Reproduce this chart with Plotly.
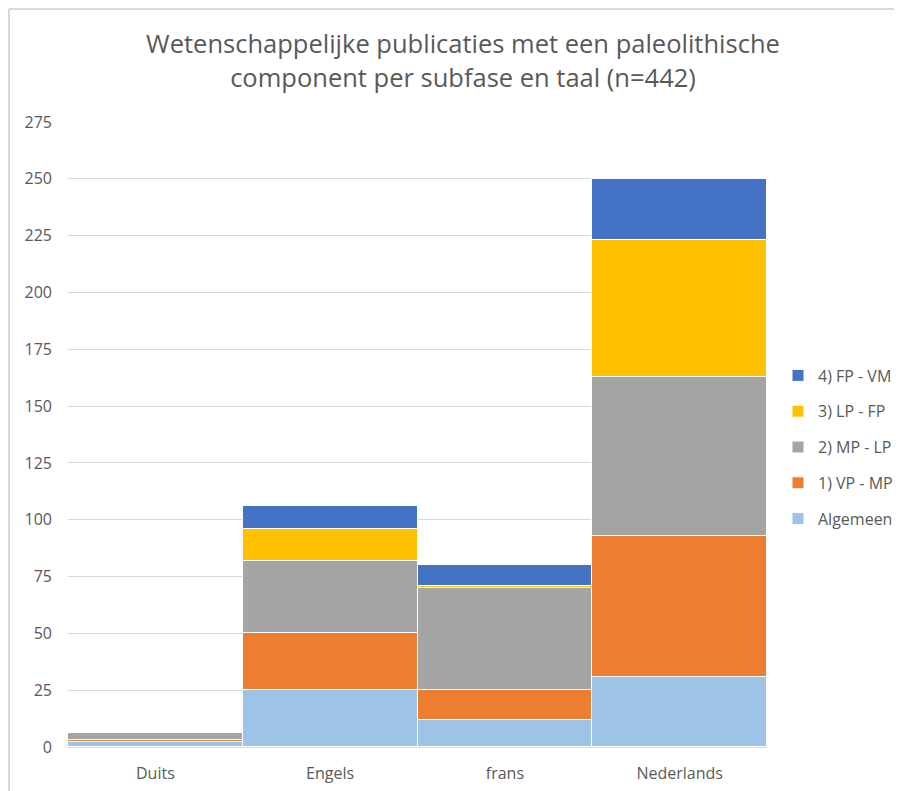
import plotly.graph_objects as go

categories = ["Duits", "Engels", "frans", "Nederlands"]
algemeen = [2, 25, 12, 31]
vp_mp = [1, 25, 13, 62]
mp_lp = [3, 32, 45, 70]
lp_fp = [0, 14, 1, 60]
fp_vm = [0, 10, 9, 27]

series = [
    ("Algemeen", algemeen, "#9DC3E6"),
    ("1) VP - MP", vp_mp, "#ED7D31"),
    ("2) MP - LP", mp_lp, "#A5A5A5"),
    ("3) LP - FP", lp_fp, "#FFC000"),
    ("4) FP - VM", fp_vm, "#4472C4"),
]

fig = go.Figure()
for i, (name, vals, col) in enumerate(series):
    fig.add_trace(go.Bar(
        x=categories, y=vals, name=name, legendgroup=name,
        legendrank=1000 - i,
        marker=dict(color=col, line=dict(color="white", width=1)),
    ))

grey = "#595959"
W, H = 902, 783
L, R, T, B = 60, 143, 114, 44
pw, ph = W - L - R, H - T - B
fx = lambda px: (px - L) / pw          # figure px -> paper x
fy = lambda py: (H - B - py) / ph      # figure px (from top) -> paper y

fig.update_layout(
    barmode="stack",
    bargap=0,
    width=W, height=H,
    paper_bgcolor="white", plot_bgcolor="white",
    font=dict(family="Open Sans, Liberation Sans, sans-serif", color=grey, size=16),
    title=dict(
        text="Wetenschappelijke publicaties met een paleolithische<br>component per subfase en taal (n=442)",
        x=fx(455), xref="paper", xanchor="center", y=0.942, yanchor="top",
        font=dict(size=25.5, color=grey),
    ),
    margin=dict(l=L, r=R, t=T, b=B, autoexpand=False),
    xaxis=dict(showline=True, linecolor="#d9d9d9", linewidth=1, ticks="",
               tickfont=dict(size=16, color=grey), ticklabelstandoff=12),
    yaxis=dict(range=[0, 275], tick0=0, dtick=25, gridcolor="#d9d9d9",
               showline=False, zeroline=False, ticks="",
               tickfont=dict(size=16, color=grey), ticklabelstandoff=15),
    legend=dict(traceorder="grouped", x=fx(770), xanchor="left",
                y=fy(439), yanchor="middle",
                font=dict(size=16, color=grey), tracegroupgap=12,
                itemwidth=30),
    shapes=[
        dict(type="line", xref="paper", yref="paper", x0=fx(1), x1=fx(1),
             y0=fy(H + 5), y1=fy(1), line=dict(color="#d9d9d9", width=2)),
        dict(type="line", xref="paper", yref="paper", x0=fx(1), x1=fx(W + 5),
             y0=fy(1), y1=fy(1), line=dict(color="#d9d9d9", width=2)),
    ],
)

fig.write_html("out.html")
